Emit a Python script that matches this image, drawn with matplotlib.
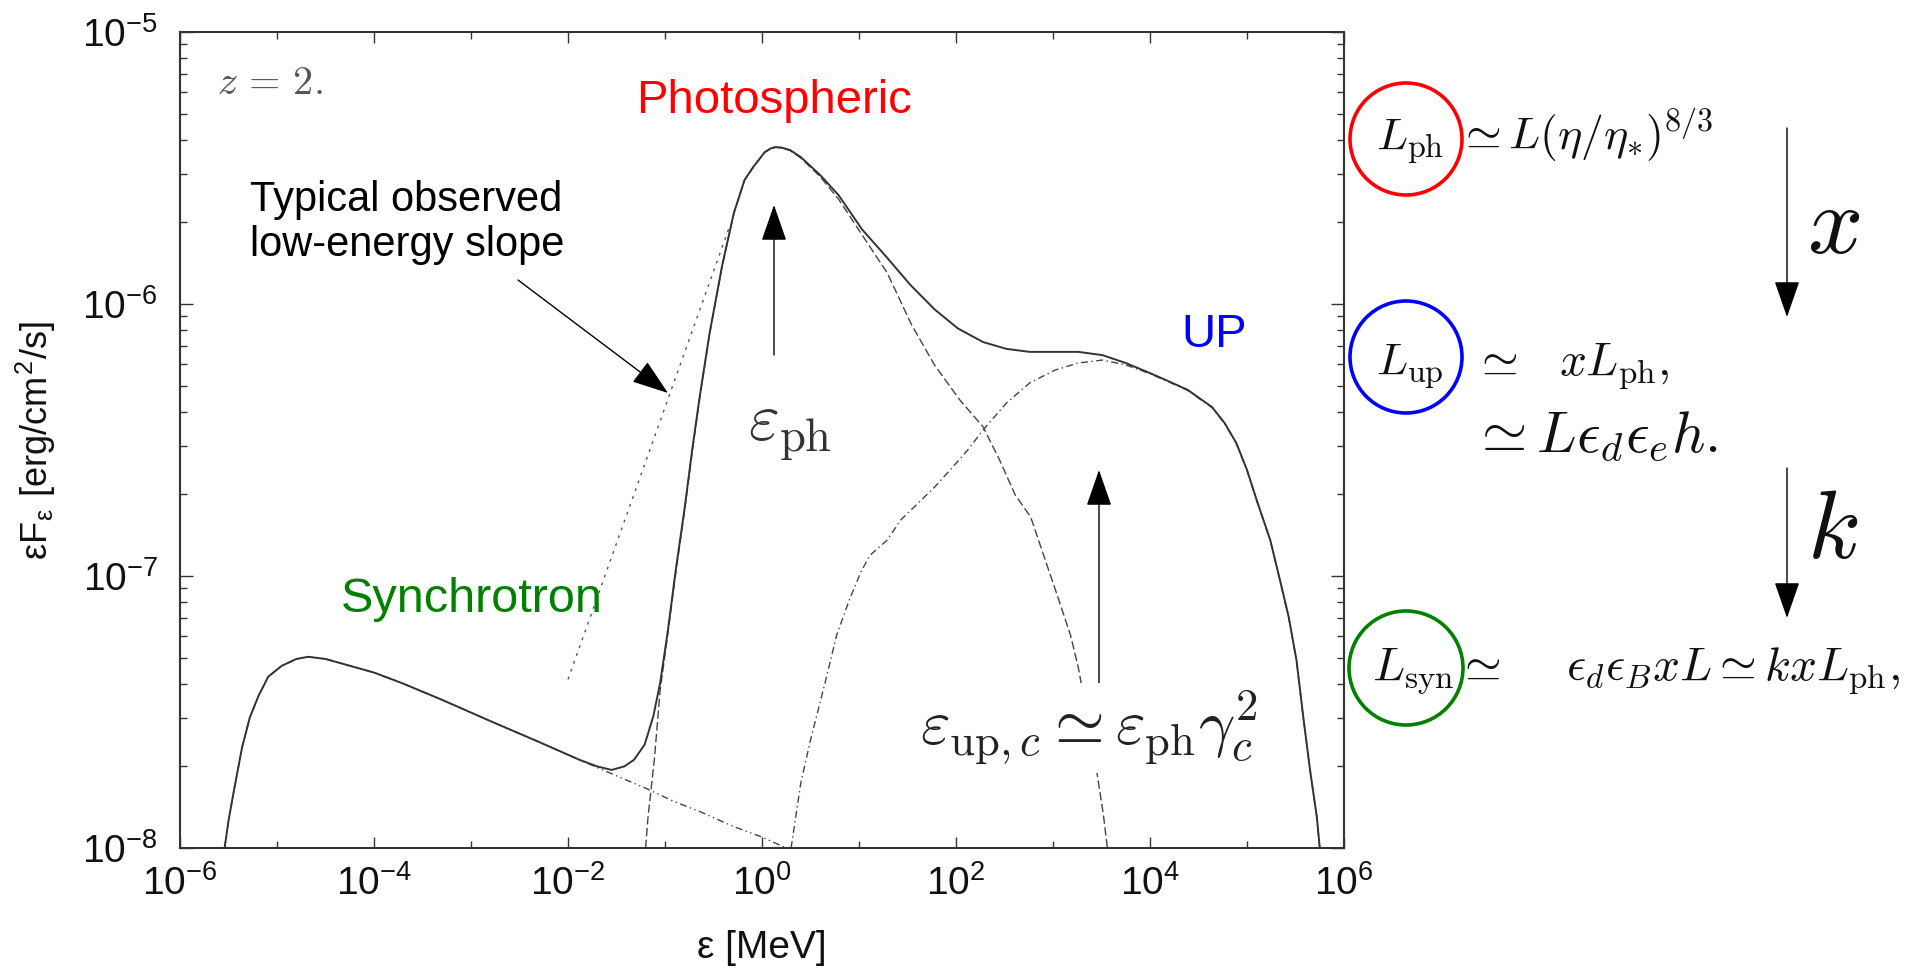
import matplotlib
matplotlib.use('Agg')
import matplotlib.pyplot as plt
import numpy as np
from matplotlib.patches import Ellipse
from matplotlib.ticker import FixedLocator, FuncFormatter, LogLocator, NullFormatter

plt.rcParams['font.family'] = ['Liberation Sans', 'DejaVu Sans']
plt.rcParams['mathtext.fontset'] = 'cm'

W, H = 1909, 969

# spectrum components, log10(eps / MeV) and log10(eps F_eps / erg cm^-2 s^-1)
log_e_total = [-5.54, -5.50, -5.45, -5.36, -5.28, -5.19, -5.09, -4.95, -4.80, -4.68,
               -4.50, -4.25, -4.00, -3.71, -3.30, -2.79, -2.30, -1.88, -1.70, -1.55,
               -1.42, -1.32, -1.21, -1.12, -1.05, -0.97, -0.89, -0.80, -0.72, -0.64,
               -0.54, -0.41, -0.29, -0.18, -0.09, 0.03, 0.09, 0.14, 0.20, 0.29,
               0.40, 0.60, 0.79, 1.03, 1.29, 1.53, 1.78, 2.02, 2.28, 2.52,
               2.76, 3.02, 3.26, 3.51, 3.75, 4.00, 4.21, 4.39, 4.64, 4.77,
               4.89, 5.00, 5.10, 5.24, 5.34, 5.43, 5.51, 5.58, 5.65, 5.72, 5.75]
log_f_total = [-8.00, -7.90, -7.80, -7.63, -7.52, -7.44, -7.37, -7.33, -7.305, -7.297,
               -7.305, -7.33, -7.355, -7.394, -7.455, -7.535, -7.61, -7.676, -7.70, -7.713,
               -7.70, -7.676, -7.62, -7.515, -7.393, -7.20, -6.98, -6.757, -6.537, -6.335,
               -6.107, -5.857, -5.665, -5.544, -5.496, -5.441, -5.428, -5.423, -5.425, -5.434,
               -5.46, -5.526, -5.600, -5.725, -5.83, -5.93, -6.02, -6.09, -6.14, -6.165,
               -6.176, -6.176, -6.176, -6.188, -6.217, -6.254, -6.287, -6.316, -6.379, -6.438,
               -6.511, -6.61, -6.721, -6.868, -7.015, -7.151, -7.309, -7.518, -7.713, -7.886, -8.00]

log_e_ph = [-1.20, -1.175, -1.11, -1.05, -0.97, -0.89, -0.80, -0.72, -0.64, -0.54,
            -0.41, -0.29, -0.18, -0.09, 0.03, 0.09, 0.14, 0.20, 0.29, 0.40,
            0.60, 0.79, 1.03, 1.29, 1.54, 1.78, 2.04, 2.28, 2.45, 2.61,
            2.77, 2.92, 3.06, 3.18, 3.26, 3.36, 3.46, 3.52, 3.56]
log_f_ph = [-8.00, -7.886, -7.676, -7.42, -7.21, -6.99, -6.765, -6.545, -6.34, -6.11,
            -5.86, -5.667, -5.545, -5.497, -5.442, -5.429, -5.424, -5.426, -5.436, -5.463,
            -5.532, -5.615, -5.745, -5.885, -6.075, -6.225, -6.353, -6.452, -6.574, -6.702,
            -6.783, -6.941, -7.088, -7.217, -7.335, -7.529, -7.739, -7.879, -8.00]

log_e_up = [0.30, 0.40, 0.50, 0.65, 0.77, 0.90, 1.02, 1.11, 1.29, 1.43,
            1.61, 1.78, 1.94, 2.12, 2.28, 2.52, 2.76, 3.02, 3.26, 3.51,
            3.75, 4.00, 4.21, 4.39, 4.64, 4.77, 4.89, 5.00, 5.10, 5.24,
            5.34, 5.43, 5.51, 5.58, 5.65, 5.72, 5.75]
log_f_up = [-8.00, -7.761, -7.603, -7.393, -7.217, -7.088, -6.985, -6.925, -6.868, -6.794,
            -6.732, -6.673, -6.61, -6.537, -6.463, -6.364, -6.29, -6.243, -6.217, -6.206,
            -6.224, -6.256, -6.289, -6.318, -6.381, -6.44, -6.513, -6.612, -6.723, -6.87,
            -7.017, -7.153, -7.311, -7.52, -7.715, -7.888, -8.00]

log_e_syn = [-5.54, -5.50, -5.45, -5.36, -5.28, -5.19, -5.09, -4.95, -4.80, -4.68,
             -4.50, -4.25, -4.00, -3.71, -3.30, -2.79, -2.30, -1.88, -1.55, -1.20,
             -0.90, -0.64, -0.30, 0.00, 0.25]
log_f_syn = [-8.00, -7.90, -7.80, -7.63, -7.52, -7.44, -7.37, -7.33, -7.305, -7.297,
             -7.305, -7.33, -7.355, -7.394, -7.455, -7.535, -7.61, -7.676, -7.727, -7.78,
             -7.83, -7.866, -7.92, -7.96, -8.00]

# typical observed low-energy slope
log_e_obs = [-2.00, -0.34]
log_f_obs = [-7.38, -5.72]

x_ticks = [-6, -4, -2, 0, 2, 4, 6]


def fx(px):
    return px / W


def fy(py):
    return 1 - py / H


def pw(e):
    return 10.0 ** np.asarray(e)


fig = plt.figure(figsize=(W / 100, H / 100), dpi=100)
ax = fig.add_axes([fx(180), fy(848), (1344 - 180) / W, (848 - 32) / H])

ax.plot(pw(log_e_obs), pw(log_f_obs), color='#555555', lw=1.0, ls=(0, (2, 4)))
ax.plot(pw(log_e_syn), pw(log_f_syn), color='#444444', lw=1.0, ls=(0, (5, 2.5, 1, 2.5, 1, 2.5)))
ax.plot(pw(log_e_ph), pw(log_f_ph), color='#444444', lw=1.0, ls=(0, (6, 2.5)))
ax.plot(pw(log_e_up), pw(log_f_up), color='#444444', lw=1.0, ls=(0, (5, 2.5, 1, 2.5)))
ax.plot(pw(log_e_total), pw(log_f_total), color='#333333', lw=1.4)

ax.set_xscale('log')
ax.set_yscale('log')
ax.set_xlim(1e-6, 1e6)
ax.set_ylim(1e-8, 1e-5)

ax.xaxis.set_major_locator(FixedLocator(pw(x_ticks)))
ax.xaxis.set_minor_locator(FixedLocator(pw([t + 1 for t in x_ticks[:-1]])))
ax.xaxis.set_major_formatter(FuncFormatter(
    lambda v, p: r'$\mathregular{10^{%d}}$' % round(np.log10(v))))
ax.xaxis.set_minor_formatter(NullFormatter())
ax.yaxis.set_major_locator(LogLocator(base=10))
ax.yaxis.set_minor_locator(LogLocator(base=10, subs=np.arange(2, 10)))
ax.yaxis.set_major_formatter(FuncFormatter(
    lambda v, p: r'$\mathregular{10^{%d}}$' % round(np.log10(v))))
ax.yaxis.set_minor_formatter(NullFormatter())

ax.tick_params(which='both', direction='in', top=True, right=True,
               color='#333333', width=1.0, labelsize=28, labelcolor='#111111')
ax.tick_params(axis='x', which='major', length=8, pad=12)
ax.tick_params(axis='x', which='minor', length=5)
ax.tick_params(axis='y', which='major', length=9.5, pad=16)
ax.tick_params(axis='y', which='minor', length=5)
for s in ax.spines.values():
    s.set_color('#333333')
    s.set_linewidth(1.5)

ax.set_xlabel('ε [MeV]', fontsize=28, color='#111111')
ax.xaxis.set_label_coords(0.5, -(930 - 848) / 816)
ax.set_ylabel(r'εF$_\mathregular{ε}$ [erg/cm$^\mathregular{2}$/s]', fontsize=26, color='#111111')
ax.yaxis.set_label_coords((58 - 180) / 1164, 0.5)

# labels inside the panel
fig.text(fx(217), fy(83), r'$z\,=\,2.$', fontsize=29, color='#555555', va='center', ha='left')
fig.text(fx(636), fy(113), 'Photospheric', fontsize=34, color='red', va='baseline')
fig.text(fx(1181), fy(347), 'UP', fontsize=34, color='blue', va='baseline')
fig.text(fx(341), fy(612), 'Synchrotron', fontsize=35, color='green', va='baseline')
fig.text(fx(250), fy(180), 'Typical observed\nlow-energy slope', fontsize=30,
         color='black', va='top', ha='left', linespacing=1.15)
fig.text(fx(790), fy(441), r'$\varepsilon_{\mathrm{ph}}$', fontsize=48, color='#333333',
         ha='center', va='baseline')
fig.text(fx(920), fy(745), r'$\varepsilon_{\mathrm{up},c} \simeq \varepsilon_{\mathrm{ph}}\gamma_c^2$',
         fontsize=46, color='#222222', ha='left', va='baseline',
         bbox=dict(facecolor='white', edgecolor='none', pad=4))

arrow = dict(arrowstyle='-|>,head_length=1.15,head_width=0.4', color='black',
             lw=1.0, shrinkA=0, shrinkB=0, mutation_scale=20)
ax.annotate('', xy=(fx(668), fy(393)), xytext=(fx(518), fy(280)),
            xycoords='figure fraction', textcoords='figure fraction', arrowprops=arrow)
ax.annotate('', xy=(fx(774), fy(205)), xytext=(fx(774), fy(355)),
            xycoords='figure fraction', textcoords='figure fraction', arrowprops=arrow)
ax.annotate('', xy=(fx(1099), fy(470)), xytext=(fx(1099), fy(695)),
            xycoords='figure fraction', textcoords='figure fraction', arrowprops=arrow)

# luminosity relations on the right
for (cx, cy, r, col) in [(1406, 139, 56, 'red'), (1406, 357, 56, 'blue'), (1406, 668, 57, 'green')]:
    fig.add_artist(Ellipse((fx(cx), fy(cy)), 2 * r / W, 2 * r / H, transform=fig.transFigure,
                           fill=False, edgecolor=col, lw=2.6))

mcol = '#111111'
fig.text(fx(1376), fy(150), r'$L_{\mathrm{ph}}$', fontsize=33, color=mcol, va='baseline')
fig.text(fx(1457), fy(150), r'$\simeq L(\eta/\eta_{*})^{8/3}$', fontsize=33, color=mcol, va='baseline')
fig.text(fx(1376), fy(375), r'$L_{\mathrm{up}}$', fontsize=33, color=mcol, va='baseline')
fig.text(fx(1473), fy(375), r'$\simeq$', fontsize=34, color=mcol, va='baseline')
fig.text(fx(1559), fy(375), r'$xL_{\mathrm{ph}},$', fontsize=34, color=mcol, va='baseline')
fig.text(fx(1471), fy(452), r'$\simeq L\epsilon_d\epsilon_e h.$', fontsize=42, color=mcol, va='baseline')
fig.text(fx(1372), fy(680), r'$L_{\mathrm{syn}}$', fontsize=34, color=mcol, va='baseline')
fig.text(fx(1456), fy(680), r'$\simeq$', fontsize=34, color=mcol, va='baseline')
fig.text(fx(1566), fy(680), r'$\epsilon_d\epsilon_B xL \simeq kxL_{\mathrm{ph}},$', fontsize=34,
         color=mcol, va='baseline')

fig.text(fx(1834), fy(228), r'$x$', fontsize=70, color=mcol, ha='center', va='center')
fig.text(fx(1833), fy(533), r'$k$', fontsize=70, color=mcol, ha='center', va='center')
ax.annotate('', xy=(fx(1787), fy(317)), xytext=(fx(1787), fy(128)),
            xycoords='figure fraction', textcoords='figure fraction', arrowprops=arrow)
ax.annotate('', xy=(fx(1787), fy(618)), xytext=(fx(1787), fy(468)),
            xycoords='figure fraction', textcoords='figure fraction', arrowprops=arrow)

fig.savefig('out.png', dpi=100)
